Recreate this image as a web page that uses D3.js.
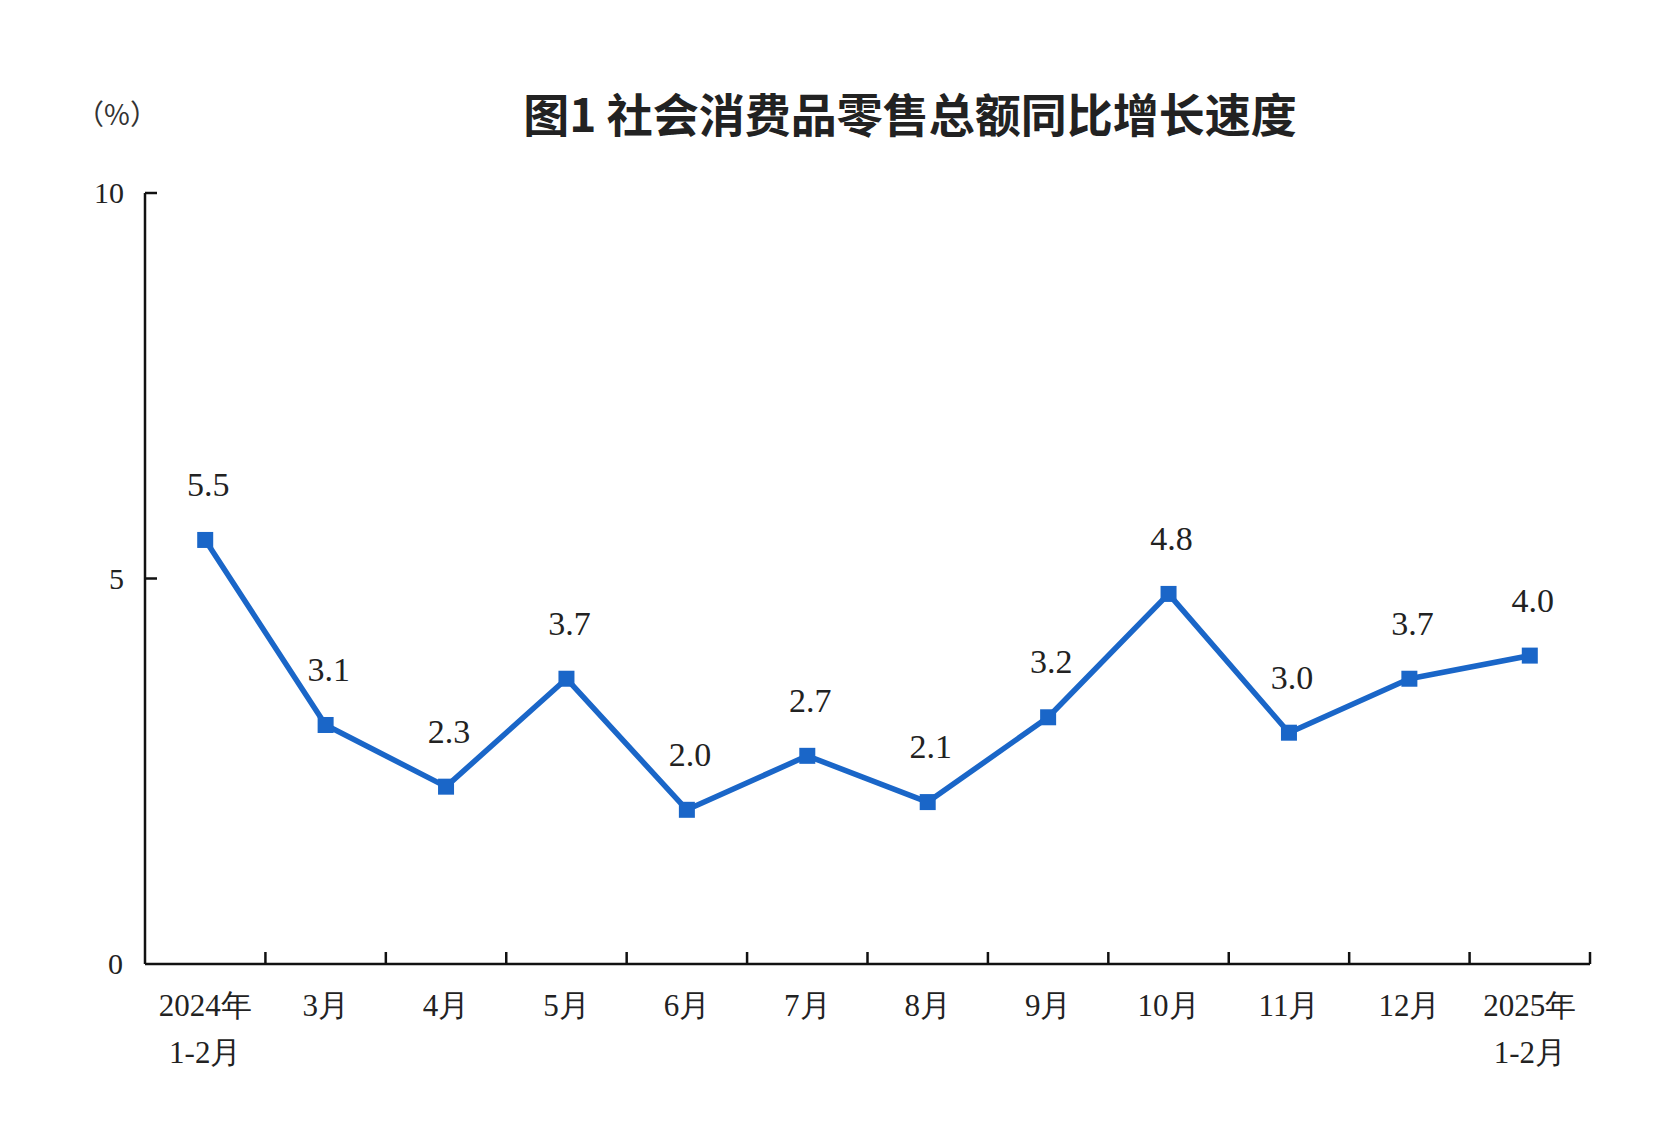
<!DOCTYPE html>
<html><head><meta charset="utf-8">
<script src="https://cdn.jsdelivr.net/npm/d3@7"></script>
<style>body{margin:0;background:#fff}</style></head>
<body><svg id="c" width="1662" height="1146"></svg>
<script>
const categories = ["2024年\n1-2月","3月","4月","5月","6月","7月","8月","9月","10月","11月","12月","2025年\n1-2月"];
const values = [5.5,3.1,2.3,3.7,2.0,2.7,2.1,3.2,4.8,3.0,3.7,4.0];
const yTicks = [0,5,10];
const title = "图1  社会消费品零售总额同比增长速度";
const unit = "（%）";

const svg = d3.select("#c");
const L=145, R=1590, T=193, B=964;
const x = d3.scaleBand().domain(d3.range(categories.length)).range([L,R]).padding(0);
const y = d3.scaleLinear().domain([0,10]).range([B,T]);
const serif = "'Liberation Serif','DejaVu Serif',serif";
const color = "#1a66c8";

svg.append("text").attr("x",910).attr("y",132).attr("text-anchor","middle")
  .attr("font-family","'Noto Sans CJK SC'").attr("font-weight","bold").attr("font-size",46).attr("fill","#222").text(title);
svg.append("text").attr("x",117).attr("y",125).attr("text-anchor","middle")
  .attr("font-family","'Noto Sans CJK SC'").attr("font-size",28).attr("fill","#333").text(unit);

// y axis
svg.append("line").attr("x1",L).attr("x2",L).attr("y1",T).attr("y2",B).attr("stroke","#111").attr("stroke-width",2.5);
svg.selectAll(".yt").data(yTicks.filter(d=>d>0)).enter().append("line").attr("x1",L).attr("x2",L+12)
  .attr("y1",d=>y(d)).attr("y2",d=>y(d)).attr("stroke","#111").attr("stroke-width",2.5);
svg.selectAll(".yl").data(yTicks).enter().append("text")
  .attr("x",d=>d===0?123:124).attr("y",d=>d===0?B+10:y(d)+10).attr("text-anchor","end")
  .attr("font-family",serif).attr("font-size",30).attr("fill","#222").text(d=>d);

// x axis
svg.append("line").attr("x1",L).attr("x2",R).attr("y1",B).attr("y2",B).attr("stroke","#111").attr("stroke-width",2.5);
svg.selectAll(".xt").data(d3.range(1,categories.length+1)).enter().append("line")
  .attr("x1",i=>x(0)+i*x.bandwidth()).attr("x2",i=>x(0)+i*x.bandwidth())
  .attr("y1",B).attr("y2",B-12).attr("stroke","#111").attr("stroke-width",2.5);
const xl = svg.selectAll(".xl").data(categories).enter().append("text")
  .attr("text-anchor","middle").attr("font-family",serif).attr("font-size",31).attr("fill","#222")
  .attr("transform",(d,i)=>`translate(${x(i)+x.bandwidth()/2},${B+52})`);
xl.each(function(d){ const s=d.split("\n"); const t=d3.select(this);
  s.forEach((p,k)=>t.append("tspan").attr("x",0).attr("y",k*47).text(p)); });

// line
const line = d3.line().x((d,i)=>x(i)+x.bandwidth()/2).y(d=>y(d));
svg.append("path").datum(values).attr("d",line).attr("fill","none").attr("stroke",color).attr("stroke-width",5.5).attr("stroke-linejoin","round");
svg.selectAll(".m").data(values).enter().append("rect")
  .attr("x",(d,i)=>x(i)+x.bandwidth()/2-8).attr("y",d=>y(d)-8).attr("width",16).attr("height",16).attr("fill",color);
svg.selectAll(".lb").data(values).enter().append("text")
  .attr("x",(d,i)=>x(i)+x.bandwidth()/2+3).attr("y",d=>y(d)-44).attr("text-anchor","middle")
  .attr("font-family",serif).attr("font-size",34).attr("fill","#222").text(d=>d.toFixed(1));
</script></body></html>
